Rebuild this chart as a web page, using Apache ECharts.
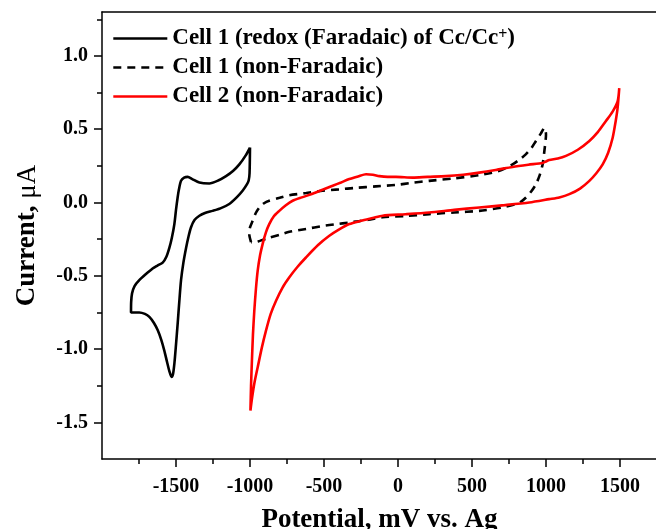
<!DOCTYPE html>
<html>
<head>
<meta charset="utf-8">
<script src="https://cdn.jsdelivr.net/npm/echarts@6/dist/echarts.min.js"></script>
<style>html,body{margin:0;padding:0;background:#fff}#c{width:656px;height:529px}</style>
</head>
<body>
<div id="c"></div>
<script>
// Cell 1 redox (Faradaic) CV loop: [potential mV, current µA]
const cell1Redox = [
  [-1000, 0.375], [-1030, 0.32], [-1072, 0.26], [-1115, 0.215], [-1162, 0.18], [-1215, 0.15],
  [-1275, 0.13], [-1342, 0.136], [-1390, 0.16], [-1421, 0.175], [-1445, 0.17], [-1466, 0.148],
  [-1480, 0.09], [-1489, 0.034], [-1500, -0.05], [-1511, -0.147], [-1528, -0.24], [-1545, -0.31],
  [-1565, -0.37], [-1590, -0.41], [-1625, -0.43], [-1658, -0.45], [-1705, -0.49], [-1748, -0.53],
  [-1780, -0.57], [-1797, -0.62], [-1803, -0.68], [-1804, -0.75],
  [-1780, -0.75], [-1748, -0.75], [-1710, -0.76], [-1680, -0.78], [-1650, -0.82], [-1624, -0.87],
  [-1600, -0.935], [-1579, -1.01], [-1560, -1.09], [-1545, -1.15], [-1530, -1.19], [-1520, -1.17],
  [-1511, -1.10], [-1500, -0.97], [-1489, -0.83], [-1478, -0.68], [-1466, -0.53], [-1450, -0.41],
  [-1432, -0.31], [-1415, -0.23], [-1399, -0.17], [-1375, -0.12], [-1342, -0.09], [-1300, -0.07],
  [-1253, -0.057], [-1200, -0.04], [-1140, -0.01], [-1090, 0.035], [-1050, 0.08], [-1020, 0.125],
  [-1009, 0.15], [-1003, 0.2], [-1000, 0.375]
];
// Cell 1 non-Faradaic CV loop
const cell1NonFaradaic = [
  [-993, -0.27], [-1005, -0.215], [-1000, -0.17], [-982, -0.125], [-960, -0.07], [-937, -0.034],
  [-905, -0.005], [-870, 0.012], [-800, 0.032], [-734, 0.05], [-620, 0.065], [-509, 0.08],
  [-400, 0.09], [-284, 0.10], [-150, 0.11], [-14, 0.12], [100, 0.135], [211, 0.148], [380, 0.165],
  [549, 0.187], [680, 0.215], [774, 0.26], [830, 0.3], [865, 0.33], [900, 0.37], [932, 0.42],
  [965, 0.47], [989, 0.51], [1000, 0.465], [990, 0.36], [977, 0.26], [955, 0.18], [932, 0.125],
  [900, 0.075], [865, 0.034], [830, 0.005], [797, -0.011], [700, -0.035], [549, -0.057],
  [380, -0.068], [211, -0.079], [50, -0.092], [-104, -0.10], [-200, -0.118], [-329, -0.136],
  [-420, -0.148], [-509, -0.16], [-620, -0.18], [-734, -0.2], [-800, -0.22], [-870, -0.24],
  [-930, -0.26], [-960, -0.27], [-993, -0.27]
];
// Cell 2 non-Faradaic CV loop
const cell2NonFaradaic = [
  [-997, -1.42], [-993, -1.25], [-987, -1.08], [-980, -0.9], [-971, -0.74], [-960, -0.59],
  [-948, -0.465], [-932, -0.36], [-914, -0.28], [-893, -0.205], [-870, -0.147], [-840, -0.095],
  [-802, -0.057], [-760, -0.02], [-712, 0.012], [-650, 0.035], [-577, 0.06], [-510, 0.087],
  [-442, 0.114], [-385, 0.137], [-329, 0.16], [-270, 0.178], [-216, 0.193], [-170, 0.19],
  [-126, 0.18], [-70, 0.175], [-14, 0.175], [99, 0.17], [200, 0.175], [324, 0.18], [440, 0.19],
  [549, 0.204], [660, 0.222], [774, 0.243], [880, 0.258], [977, 0.27], [1000, 0.28], [1022, 0.29],
  [1080, 0.3], [1135, 0.318], [1215, 0.36], [1293, 0.42], [1350, 0.48], [1405, 0.556],
  [1450, 0.62], [1484, 0.69], [1495, 0.78],
  [1484, 0.647], [1470, 0.55], [1450, 0.44], [1420, 0.34], [1383, 0.26], [1340, 0.2],
  [1293, 0.148], [1230, 0.095], [1158, 0.057], [1090, 0.035], [1022, 0.023], [887, 0.0],
  [720, -0.018], [549, -0.034], [380, -0.05], [211, -0.068], [50, -0.08], [-104, -0.09],
  [-171, -0.106], [-250, -0.125], [-329, -0.147], [-400, -0.185], [-464, -0.227], [-540, -0.29],
  [-622, -0.375], [-680, -0.44], [-734, -0.51], [-780, -0.58], [-824, -0.67], [-860, -0.76],
  [-892, -0.874], [-920, -0.99], [-948, -1.124], [-968, -1.22], [-982, -1.305], [-991, -1.37],
  [-997, -1.42]
];
const seriesNames = ['Cell 1 (redox (Faradaic) of Cc/Cc+)', 'Cell 1 (non-Faradaic)', 'Cell 2 (non-Faradaic)'];
const xMajorTicks = [-1500, -1000, -500, 0, 500, 1000, 1500];
const xMinorTicks = [-1750, -1250, -750, -250, 250, 750, 1250];
const yMajorTicks = [-1.5, -1.0, -0.5, 0.0, 0.5, 1.0];
const yMinorTicks = [-1.25, -0.75, -0.25, 0.25, 0.75, 1.25];
const xTitle = 'Potential, mV vs. Ag';
const yTitle = 'Current, ';

const FONT = '"Liberation Serif", "Times New Roman", serif';
const X_MIN = -2000, X_MAX = 1750, Y_MIN = -1.75, Y_MAX = 1.3;

const chart = echarts.init(document.getElementById('c'), null, {renderer: 'canvas'});
const baseAxisLine = {show: true, onZero: false, lineStyle: {color: '#000', width: 1.5}};
const option = {
  animation: false,
  backgroundColor: '#fff',
  grid: {left: 102, top: 12, right: -1, bottom: 70, containLabel: false, outerBoundsMode: 'none'},
  legend: {
    left: 112, top: 27, padding: 0, orient: 'vertical', itemWidth: 54, itemHeight: 14,
    itemGap: 6, itemTextGap: 6,
    data: seriesNames,
    itemStyle: {opacity: 0},
    lineStyle: {width: 2.6},
    formatter: function (name) {
      if (name === seriesNames[0]) return '{n|Cell 1 (redox (Faradaic) of Cc/Cc}{s|+}{n|)}';
      return '{n|' + name + '}';
    },
    textStyle: {
      color: '#000', fontFamily: FONT, fontWeight: 'bold', fontSize: 23, lineHeight: 23,
      rich: {
        n: {fontFamily: FONT, fontWeight: 'bold', fontSize: 23, lineHeight: 23, color: '#000'},
        s: {fontFamily: FONT, fontWeight: 'bold', fontSize: 16, lineHeight: 10, verticalAlign: 'top', color: '#000'}
      }
    }
  },
  xAxis: [{
    type: 'value', min: X_MIN, max: X_MAX, position: 'bottom',
    axisLine: baseAxisLine, splitLine: {show: false},
    axisTick: {show: true, inside: false, length: 8, customValues: xMajorTicks, lineStyle: {color: '#000', width: 1.5}},
    axisLabel: {show: true, customValues: xMajorTicks, margin: 18, color: '#000', fontFamily: FONT, fontWeight: 'bold', fontSize: 20,
      formatter: v => String(v)},
    name: xTitle, nameLocation: 'middle', nameGap: 48,
    nameTextStyle: {color: '#000', fontFamily: FONT, fontWeight: 'bold', fontSize: 27}
  }, {
    type: 'value', min: X_MIN, max: X_MAX, position: 'bottom',
    axisLine: {show: false, onZero: false}, splitLine: {show: false},
    axisTick: {show: true, inside: false, length: 5, customValues: xMinorTicks, lineStyle: {color: '#000', width: 1.5}},
    axisLabel: {show: false}
  }, {
    type: 'value', min: X_MIN, max: X_MAX, position: 'top',
    axisLine: baseAxisLine, splitLine: {show: false}, axisTick: {show: false}, axisLabel: {show: false}
  }],
  yAxis: [{
    type: 'value', min: Y_MIN, max: Y_MAX, position: 'left',
    axisLine: baseAxisLine, splitLine: {show: false},
    axisTick: {show: true, inside: false, length: 8, customValues: yMajorTicks, lineStyle: {color: '#000', width: 1.5}},
    axisLabel: {show: true, customValues: yMajorTicks, margin: 14, color: '#000', fontFamily: FONT, fontWeight: 'bold', fontSize: 20,
      formatter: v => v.toFixed(1)},
    name: '{b|' + yTitle + '}{m|μA}', nameLocation: 'middle', nameGap: 61, nameRotate: 90,
    nameTextStyle: {color: '#000', fontFamily: FONT, fontWeight: 'bold', fontSize: 27,
      rich: {b: {fontFamily: FONT, fontWeight: 'bold', fontSize: 27, color: '#000'},
             m: {fontFamily: FONT, fontWeight: 'normal', fontSize: 27, color: '#000'}}}
  }, {
    type: 'value', min: Y_MIN, max: Y_MAX, position: 'left',
    axisLine: {show: false, onZero: false}, splitLine: {show: false},
    axisTick: {show: true, inside: false, length: 5, customValues: yMinorTicks, lineStyle: {color: '#000', width: 1.5}},
    axisLabel: {show: false}
  }],
  series: [{
    name: seriesNames[0], type: 'line', data: cell1Redox, symbol: 'none', smooth: 0.25,
    lineStyle: {color: '#000', width: 2.6}, itemStyle: {color: '#000'}, clip: true
  }, {
    name: seriesNames[1], type: 'line', data: cell1NonFaradaic, symbol: 'none', smooth: 0.25,
    lineStyle: {color: '#000', width: 2.6, type: [8, 6]}, itemStyle: {color: '#000'}, clip: true
  }, {
    name: seriesNames[2], type: 'line', data: cell2NonFaradaic, symbol: 'none', smooth: 0.25,
    lineStyle: {color: '#ff0000', width: 2.6}, itemStyle: {color: '#ff0000'}, clip: true
  }]
};
chart.setOption(option);
</script>
</body>
</html>
